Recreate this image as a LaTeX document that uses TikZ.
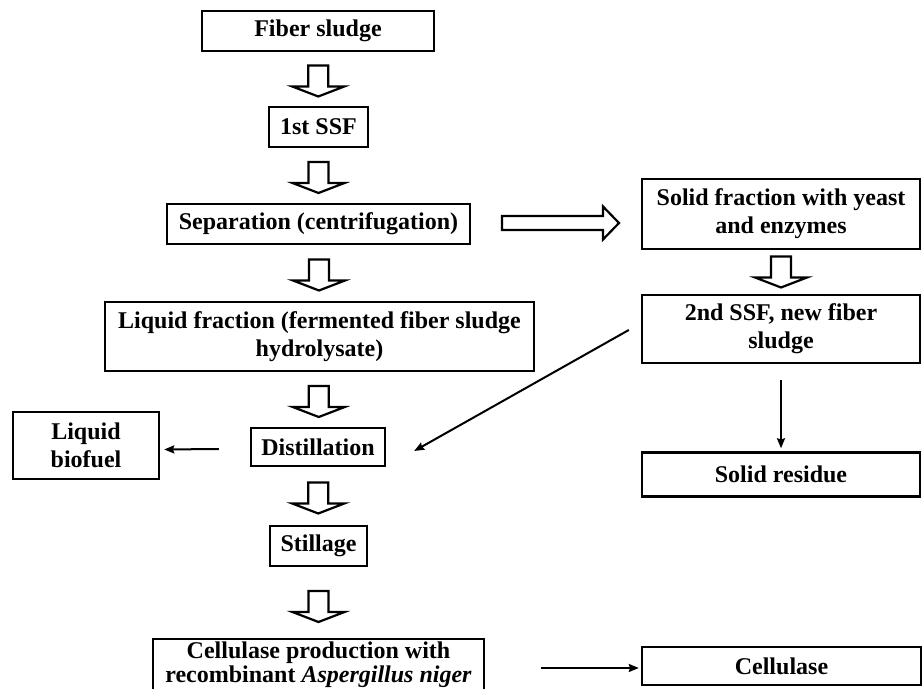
\documentclass[tikz,border=0pt]{standalone}
\usepackage{fontspec}
\setmainfont{Liberation Serif}
\usetikzlibrary{arrows.meta,calc}

\begin{document}
\begin{tikzpicture}[
  x=0.5pt,
  y=-0.5pt,
  >={Stealth[length=5pt,width=4pt,inset=0.6pt]},
  box/.style={draw=black, line width=1.2pt, inner sep=0pt, align=center, font=\fontsize{12pt}{14pt}\selectfont\bfseries},
  flow/.style={->, line width=1pt, draw=black},
  hollow/.style={draw=black, line width=1.1pt, line join=miter, fill=white},
  bigdown/.pic={\draw[hollow] (-10,-15.5) -- (10,-15.5) -- (10,5.5) -- (26,5.5) -- (0,15.5) -- (-26,5.5) -- (-10,5.5) -- cycle;},
  bigright/.pic={\draw[hollow] (-58.5,-7) -- (42.5,-7) -- (42.5,-16.5) -- (58.5,0) -- (42.5,16.5) -- (42.5,7) -- (-58.5,7) -- cycle;},
]
\useasboundingbox (0,0) rectangle (922,689);

\node[box, minimum width=116pt, minimum height=20pt] (fiber) at (318,31) {Fiber sludge};
\node[box, minimum width=49.5pt, minimum height=20pt] (ssf1) at (318.5,127) {1st SSF};
\node[box, minimum width=151.5pt, minimum height=20pt] (sep) at (318.5,224) {Separation (centrifugation)};
\node[box, minimum width=214.5pt, minimum height=34.5pt] (liq) at (319.5,336.5) {Liquid fraction (fermented fiber sludge\\hydrolysate)};
\node[box, minimum width=67pt, minimum height=19pt] (dist) at (318,447) {Distillation};
\node[box, minimum width=48.5pt, minimum height=20pt] (still) at (318.5,546) {Stillage};
\node[box, minimum width=165.5pt, minimum height=26pt, font=\fontsize{12pt}{12pt}\selectfont\bfseries] (prod) at (318.5,665) {Cellulase production with\\recombinant \textit{Aspergillus niger}};
\node[box, minimum width=139.5pt, minimum height=19pt] (cell) at (781.5,666) {Cellulase};

\node[box, minimum width=139pt, minimum height=35pt] (solid) at (781,214) {Solid fraction with yeast\\and enzymes};
\node[box, minimum width=139pt, minimum height=34pt] (ssf2) at (781,329) {2nd SSF, new fiber\\sludge};
\node[box, minimum width=139pt, minimum height=22pt] (resid) at (781,474.5) {Solid residue};
\node[box, minimum width=73pt, minimum height=33.5pt] (fuel) at (86,445.5) {Liquid\\biofuel};

\pic at ($(fiber.south)!0.5!(ssf1.north)+(0,2)$) {bigdown};
\pic at ($(ssf1.south)!0.5!(sep.north)+(0,2)$) {bigdown};
\pic at ($(sep.south)!0.5!(liq.north)+(0,2)$) {bigdown};
\pic at ($(liq.south)!0.5!(dist.north)+(0,2)$) {bigdown};
\pic at ($(dist.south)!0.5!(still.north)+(0,2)$) {bigdown};
\pic at ($(still.south)!0.5!(prod.north)+(0,4)$) {bigdown};
\pic at ($(solid.south)!0.5!(ssf2.north)$) {bigdown};
\pic at ($(sep.east)!0.5!(sep.east -| solid.west)+(4.5,-1)$) {bigright};

\draw[flow] ([xshift=-15.5pt,yshift=-1pt]dist.west) -- ([xshift=2pt,yshift=-2pt]fuel.east);
\draw[flow] ([xshift=-6pt,yshift=-0.5pt]ssf2.west) -- ([xshift=14pt,yshift=-2pt]dist.east);
\draw[flow] ([yshift=-8pt]ssf2.south) -- ([yshift=1.5pt]resid.north);
\draw[flow] ([xshift=-50pt,yshift=-1pt]cell.west) -- ([xshift=-1pt,yshift=-1pt]cell.west);

\end{tikzpicture}
\end{document}
